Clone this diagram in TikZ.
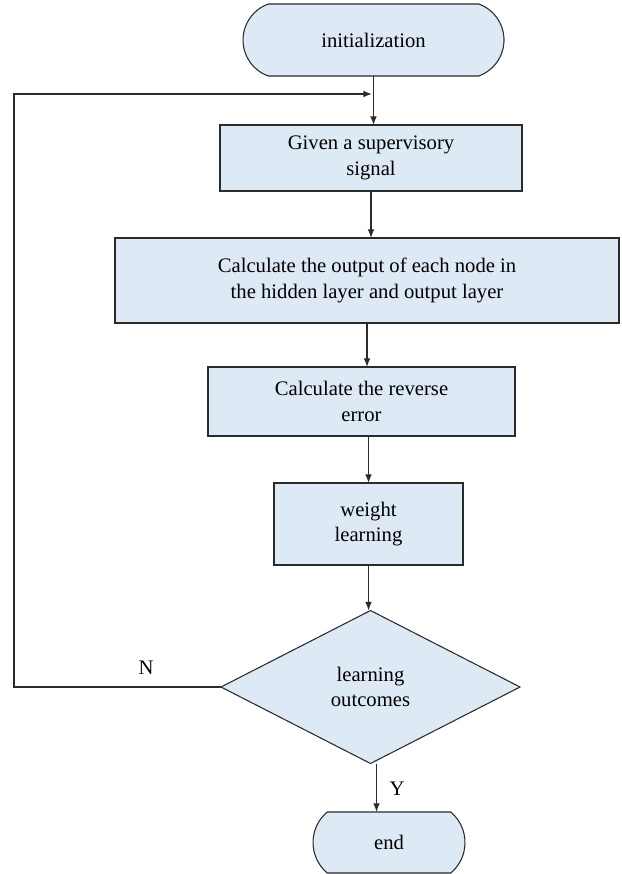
\documentclass[tikz,border=0pt]{standalone}
\usepackage{fontspec}
\setmainfont{Liberation Serif}
\usetikzlibrary{shapes.geometric,shapes.misc,arrows.meta}

\definecolor{boxfill}{RGB}{221,233,244}
\definecolor{boxline}{RGB}{43,43,43}

\tikzset{
  flow/.style={draw=boxline, fill=boxfill, line width=0.8pt, inner sep=0pt,
    outer sep=0pt, align=center, font=\rmfamily\fontsize{15.5}{19}\selectfont},
  stepbox/.style={flow, rectangle},
  terminal/.style={flow, rounded rectangle},
  decision/.style={flow, diamond},
  conn/.style={-{Latex[length=6.5pt,width=5pt]}, line width=0.9pt, draw=boxline},
  lbl/.style={font=\rmfamily\fontsize{15.5}{19}\selectfont, inner sep=0pt}
}

\begin{document}
\begin{tikzpicture}[x=0.75pt,y=-0.75pt]
        \useasboundingbox (0,0) rectangle (621,874);
        \node[terminal, rounded rectangle arc length=140, minimum width=195.75pt, minimum height=54pt] at (373.5,40) (init) {initialization};
        \node[stepbox, minimum width=226.5pt, minimum height=49.5pt] at (371,158) (given) {Given a supervisory\\signal};
        \node[stepbox, minimum width=378pt, minimum height=63.75pt] at (367,280.5) (calc) {Calculate the output of each node in\\the hidden layer and output layer};
        \node[stepbox, minimum width=230.25pt, minimum height=51.75pt] at (361.5,401.5) (rev) {Calculate the reverse\\error};
        \node[stepbox, minimum width=141.75pt, minimum height=61.5pt] at (368.5,524) (weight) {weight\\learning};
        \node[decision, minimum width=224.25pt, minimum height=114.75pt] at (370.5,687) (d) {learning\\outcomes};
        \node[terminal, rounded rectangle arc length=100, minimum width=114pt, minimum height=45.75pt] at (389,842.5) (end) {end};
        \node[lbl] at (146,668) (nlab) {N};
        \node[lbl] at (397,789) (ylab) {Y};
        \coordinate (lefttop) at (14,94);
        \coordinate (loopin) at (372,94);
        \draw[conn] (init.south) -- (init.south |- given.north);
        \draw[conn] (given.south) -- (given.south |- calc.north);
        \draw[conn] (calc.south) -- (calc.south |- rev.north);
        \draw[conn] (weight.north |- rev.south) -- (weight.north);
        \draw[conn] (weight.south) -- (weight.south |- d.north);
        \draw[conn] ([xshift=4.5pt]d.south) -- ([xshift=4.5pt]d.south |- end.north);
        \draw[conn] (d.west) -| (lefttop) -- (loopin);
      \end{tikzpicture}
\end{document}
